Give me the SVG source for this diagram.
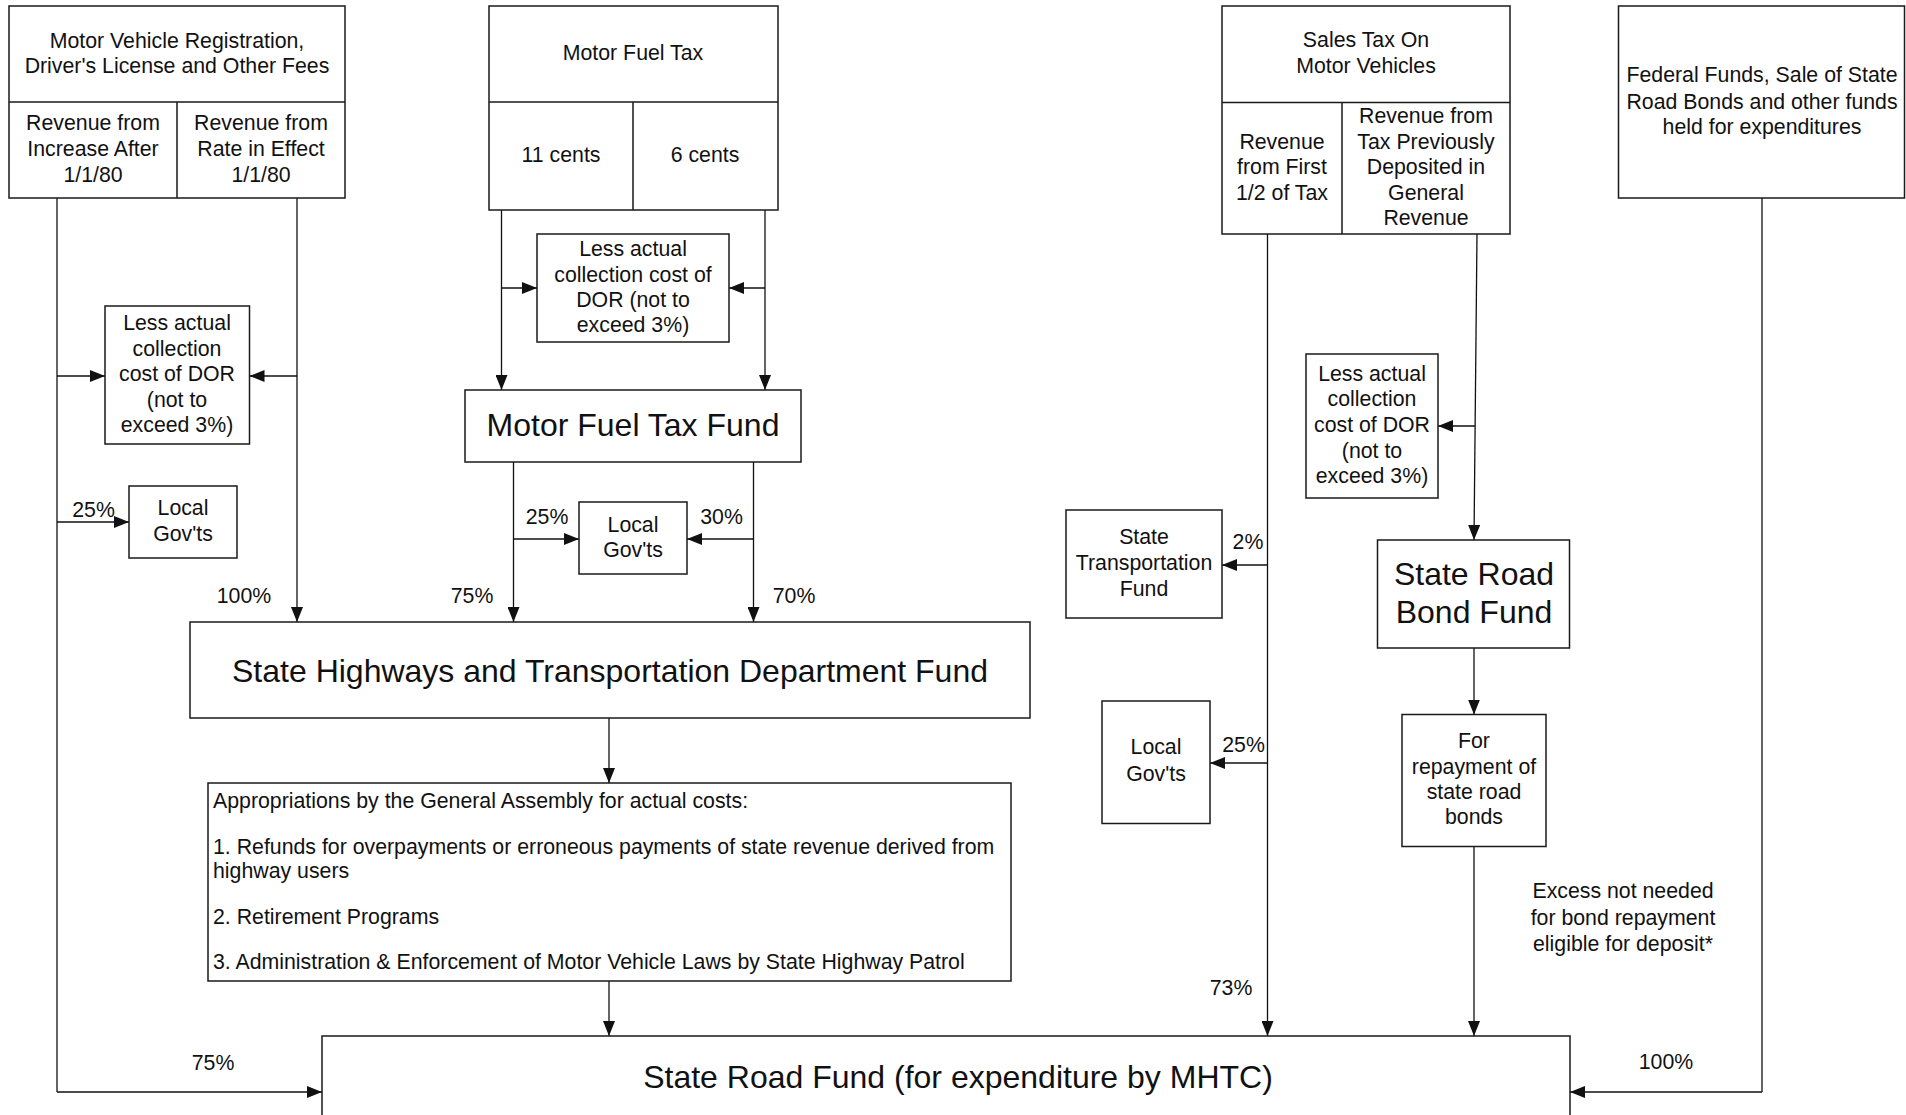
<svg xmlns="http://www.w3.org/2000/svg" width="1906" height="1115" viewBox="0 0 1906 1115">
<style>
.b{fill:#fff;stroke:#1a1a1a;stroke-width:1.5}
.d{fill:none;stroke:#1a1a1a;stroke-width:1.5}
.c{fill:none;stroke:#111;stroke-width:1.3;marker-end:url(#ah)}
.p{fill:none;stroke:#111;stroke-width:1.3}
text{font-family:"Liberation Sans",Arial,sans-serif;font-size:21.3px;fill:#111;text-anchor:middle;transform:translateY(-1.2px)}
text.L{font-size:32px;transform:none}
.l{text-anchor:start}
</style>
<defs>
<marker id="ah" markerWidth="15" markerHeight="12" refX="15" refY="6" orient="auto" markerUnits="userSpaceOnUse"><path d="M0,0 L15,6 L0,12 z" fill="#111"/></marker>
</defs>
<rect width="1906" height="1115" fill="#fff"/>
<g id="connectors">
<path class="p" d="M57,198 V1092"/>
<path class="c" d="M57,1092 H322"/>
<path class="c" d="M57,376 H105"/>
<path class="c" d="M57,522 H129"/>
<path class="c" d="M297,198 V622"/>
<path class="c" d="M297,376 H249.5"/>
<path class="c" d="M501.5,210 V390"/>
<path class="c" d="M501.5,288 H537"/>
<path class="c" d="M765,210 V390"/>
<path class="c" d="M765,288 H729"/>
<path class="c" d="M513.5,462 V622"/>
<path class="c" d="M513.5,539 H579"/>
<path class="c" d="M753.5,462 V622"/>
<path class="c" d="M753.5,539 H687"/>
<path class="c" d="M609,718 V783"/>
<path class="c" d="M609,981 V1036"/>
<path class="c" d="M1267.5,234 V1036"/>
<path class="c" d="M1267.5,565 H1222"/>
<path class="c" d="M1267.5,763 H1210"/>
<path class="c" d="M1477,234 L1474,540"/>
<path class="c" d="M1475.2,426 H1438"/>
<path class="c" d="M1474,648 V714.5"/>
<path class="c" d="M1474,846.5 V1036"/>
<path class="p" d="M1762,198 V1092"/>
<path class="c" d="M1762,1092 H1570"/>
</g>
<g id="motor-vehicle-registration">
<rect class="b" x="9" y="6" width="336" height="192"/>
<path class="d" d="M9,102 H345 M177,102 V198"/>
<text x="177" y="49">Motor Vehicle Registration,</text>
<text x="177" y="74">Driver's License and Other Fees</text>
<text x="93" y="131.5">Revenue from</text>
<text x="93" y="157.5">Increase After</text>
<text x="93" y="183">1/1/80</text>
<text x="261" y="131.5">Revenue from</text>
<text x="261" y="157.5">Rate in Effect</text>
<text x="261" y="183">1/1/80</text>
</g>
<g id="motor-fuel-tax">
<rect class="b" x="489" y="6" width="289" height="204"/>
<path class="d" d="M489,102 H778 M633,102 V210"/>
<text x="633" y="61.5">Motor Fuel Tax</text>
<text x="561" y="163.5">11 cents</text>
<text x="705" y="163.5">6 cents</text>
</g>
<g id="less-cost-1">
<rect class="b" x="105" y="306" width="144.5" height="138"/>
<text x="177" y="331.5">Less actual</text>
<text x="177" y="357">collection</text>
<text x="177" y="382.5">cost of DOR</text>
<text x="177" y="408">(not to</text>
<text x="177" y="433.5">exceed 3%)</text>
</g>
<g id="less-cost-2">
<rect class="b" x="537" y="234" width="192" height="108"/>
<text x="633" y="257.5">Less actual</text>
<text x="633" y="283">collection cost of</text>
<text x="633" y="308.5">DOR (not to</text>
<text x="633" y="333">exceed 3%)</text>
</g>
<g id="motor-fuel-tax-fund">
<rect class="b" x="465" y="390" width="336" height="72"/>
<text class="L" x="633" y="435.5">Motor Fuel Tax Fund</text>
</g>
<g id="local-govts-1">
<rect class="b" x="129" y="486" width="108" height="72"/>
<text x="183" y="516.7">Local</text>
<text x="183" y="542.5">Gov'ts</text>
</g>
<g id="local-govts-2">
<rect class="b" x="579" y="502" width="108" height="72"/>
<text x="633" y="533">Local</text>
<text x="633" y="558.5">Gov'ts</text>
</g>
<g id="labels-left">
<text x="93.5" y="518.5">25%</text>
<text x="547" y="525.5">25%</text>
<text x="721.5" y="525.5">30%</text>
<text x="244" y="604">100%</text>
<text x="472" y="604">75%</text>
<text x="794" y="604">70%</text>
<text x="213" y="1071.5">75%</text>
</g>
<g id="shtd-fund">
<rect class="b" x="190" y="622" width="840" height="96"/>
<text class="L" x="610" y="681.5">State Highways and Transportation Department Fund</text>
</g>
<g id="appropriations">
<rect class="b" x="208" y="783" width="803" height="198"/>
<text class="l" x="213" y="809.5">Appropriations by the General Assembly for actual costs:</text>
<text class="l" x="213" y="855">1. Refunds for overpayments or erroneous payments of state revenue derived from</text>
<text class="l" x="213" y="879.5">highway users</text>
<text class="l" x="213" y="925">2. Retirement Programs</text>
<text class="l" x="213" y="970">3. Administration &amp; Enforcement of Motor Vehicle Laws by State Highway Patrol</text>
</g>
<g id="state-road-fund">
<rect class="b" x="322" y="1036" width="1248" height="110"/>
<text class="L" x="958" y="1088">State Road Fund (for expenditure by MHTC)</text>
</g>
<g id="sales-tax">
<rect class="b" x="1222" y="6" width="288" height="228"/>
<path class="d" d="M1222,102.5 H1510 M1342,102.5 V234"/>
<text x="1366" y="48.5">Sales Tax On</text>
<text x="1366" y="74">Motor Vehicles</text>
<text x="1282" y="150">Revenue</text>
<text x="1282" y="175.5">from First</text>
<text x="1282" y="201.5">1/2 of Tax</text>
<text x="1426" y="124.5">Revenue from</text>
<text x="1426" y="150">Tax Previously</text>
<text x="1426" y="175.5">Deposited in</text>
<text x="1426" y="201">General</text>
<text x="1426" y="226.5">Revenue</text>
</g>
<g id="federal-funds">
<rect class="b" x="1618.5" y="6" width="286" height="192"/>
<text x="1762" y="83.5">Federal Funds, Sale of State</text>
<text x="1762" y="110">Road Bonds and other funds</text>
<text x="1762" y="135.5">held for expenditures</text>
</g>
<g id="less-cost-3">
<rect class="b" x="1306" y="354" width="132" height="144"/>
<text x="1372" y="382.5">Less actual</text>
<text x="1372" y="407.5">collection</text>
<text x="1372" y="433">cost of DOR</text>
<text x="1372" y="459">(not to</text>
<text x="1372" y="484">exceed 3%)</text>
</g>
<g id="state-transportation-fund">
<rect class="b" x="1066" y="510" width="156" height="108"/>
<text x="1144" y="545.5">State</text>
<text x="1144" y="571.5">Transportation</text>
<text x="1144" y="597">Fund</text>
</g>
<g id="state-road-bond-fund">
<rect class="b" x="1377.5" y="540" width="192" height="108"/>
<text class="L" x="1474" y="585">State Road</text>
<text class="L" x="1474" y="622.5">Bond Fund</text>
</g>
<g id="bond-repayment">
<rect class="b" x="1402" y="714.5" width="144" height="132"/>
<text x="1474" y="749.5">For</text>
<text x="1474" y="775">repayment of</text>
<text x="1474" y="800.5">state road</text>
<text x="1474" y="825">bonds</text>
</g>
<g id="local-govts-3">
<rect class="b" x="1102" y="701" width="108" height="122.5"/>
<text x="1156" y="755.7">Local</text>
<text x="1156" y="782">Gov'ts</text>
</g>
<g id="labels-right">
<text x="1248" y="550.5">2%</text>
<text x="1243.5" y="753.5">25%</text>
<text x="1231" y="996">73%</text>
<text x="1666" y="1070.5">100%</text>
<text x="1623" y="899.5">Excess not needed</text>
<text x="1623" y="926">for bond repayment</text>
<text x="1623" y="952">eligible for deposit*</text>
</g>
</svg>
